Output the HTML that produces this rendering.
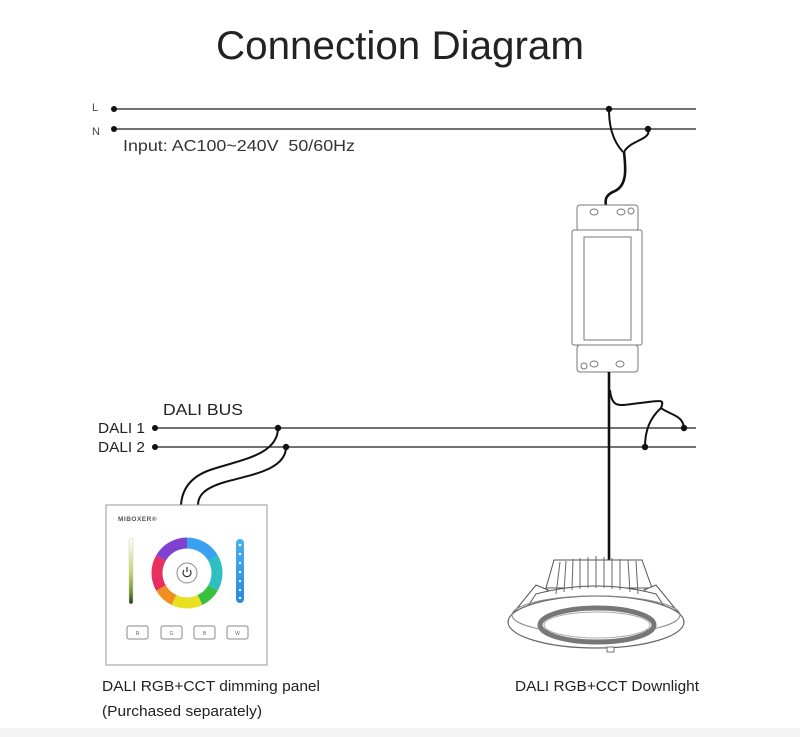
<!DOCTYPE html>
<html><head><meta charset="utf-8"><style>
html,body{margin:0;padding:0;background:#fff;}
svg{display:block;font-family:"Liberation Sans",sans-serif;}
</style></head><body>
<svg width="800" height="737" viewBox="0 0 800 737" xmlns="http://www.w3.org/2000/svg">
<defs>
<linearGradient id="sl" x1="0" y1="0" x2="0" y2="1">
<stop offset="0" stop-color="#fff"/><stop offset="0.5" stop-color="#c9d86a"/><stop offset="0.8" stop-color="#7a9a30"/><stop offset="1" stop-color="#1a3a10"/></linearGradient>
<linearGradient id="bl" x1="0" y1="0" x2="0" y2="1"><stop offset="0" stop-color="#4ab0ec"/><stop offset="1" stop-color="#2a8ad8"/></linearGradient>
</defs>
<rect width="800" height="737" fill="#fff"/>
<rect y="728" width="800" height="9" fill="#f4f4f4"/>
<text x="400" y="59" text-anchor="middle" font-size="40" fill="#222" textLength="368" lengthAdjust="spacingAndGlyphs">Connection Diagram</text>

<!-- L N -->
<text x="92" y="111" font-size="11" fill="#444">L</text>
<text x="92" y="135" font-size="11" fill="#444">N</text>
<line x1="114" y1="109" x2="696" y2="109" stroke="#444" stroke-width="1.6"/>
<line x1="114" y1="129" x2="696" y2="129" stroke="#444" stroke-width="1.6"/>
<circle cx="114" cy="109" r="3" fill="#111"/>
<circle cx="114" cy="129" r="3" fill="#111"/>
<text x="123" y="151" font-size="16" fill="#333" textLength="232" lengthAdjust="spacingAndGlyphs">Input: AC100~240V&#160; 50/60Hz</text>

<!-- input wires -->
<g fill="none" stroke="#111" stroke-width="2">
<path d="M609 109 C609 125 612 140 623 152"/>
<path d="M648 129 C652 140 630 140 624 152"/>
<path d="M624 152 C626 170 627 185 615 191 C605 195 605 200 606 206" stroke-width="2.6"/>
</g>
<circle cx="609" cy="109" r="3.2" fill="#111"/>
<circle cx="648" cy="129" r="3.2" fill="#111"/>

<!-- driver -->
<g fill="#fff" stroke="#777" stroke-width="1">
<rect x="577" y="205" width="61" height="26" rx="3"/>
<rect x="572" y="230" width="70" height="115" rx="2"/>
<rect x="584" y="237" width="47" height="103"/>
<rect x="577" y="345" width="61" height="27" rx="3"/>
<ellipse cx="594" cy="212" rx="4" ry="3"/><ellipse cx="621" cy="212" rx="4" ry="3"/><circle cx="631" cy="211" r="3"/>
<ellipse cx="594" cy="364" rx="4" ry="3"/><ellipse cx="620" cy="364" rx="4" ry="3"/><circle cx="584" cy="366" r="3"/>
</g>

<!-- DALI -->
<text x="163" y="415" font-size="16" fill="#222" textLength="80" lengthAdjust="spacingAndGlyphs">DALI BUS</text>
<text x="98" y="433" font-size="14.5" fill="#222" textLength="47" lengthAdjust="spacingAndGlyphs">DALI 1</text>
<text x="98" y="452" font-size="14.5" fill="#222" textLength="47" lengthAdjust="spacingAndGlyphs">DALI 2</text>
<line x1="155" y1="428" x2="696" y2="428" stroke="#444" stroke-width="1.6"/>
<line x1="155" y1="447" x2="696" y2="447" stroke="#444" stroke-width="1.6"/>
<circle cx="155" cy="428" r="3" fill="#111"/>
<circle cx="155" cy="447" r="3" fill="#111"/>

<g fill="none" stroke="#111" stroke-width="2">
<path d="M609 372 L609 560" stroke-width="2.6"/>
<path d="M610 390 C612 410 620 405 640 403 C660 401 665 398 661 408"/>
<path d="M661 408 C670 415 683 415 684 428"/>
<path d="M661 408 C650 418 645 430 645 447"/>
<path d="M278 428 C278 455 240 460 210 470 C190 477 182 490 181 505"/>
<path d="M286 447 C286 470 250 475 225 482 C205 488 198 495 198 505"/>
</g>
<circle cx="684" cy="428" r="3.2" fill="#111"/>
<circle cx="645" cy="447" r="3.2" fill="#111"/>
<circle cx="278" cy="428" r="3.2" fill="#111"/>
<circle cx="286" cy="447" r="3.2" fill="#111"/>

<!-- panel -->
<rect x="106" y="505" width="161" height="160" fill="#fff" stroke="#999" stroke-width="1"/>
<text x="118" y="521" font-size="6.5" font-weight="bold" fill="#555" letter-spacing="0.5">MIBOXER®</text>
<rect x="129" y="538" width="4" height="66" rx="2" fill="url(#sl)" stroke="#ccc" stroke-width="0.5"/>
<g fill="none" stroke-width="11">
<path d="M187 543 A30 30 0 0 1 213 558" stroke="#3aa0f0"/>
<path d="M213 558 A30 30 0 0 1 213 588" stroke="#2ec0c0"/>
<path d="M213 588 A30 30 0 0 1 200 600" stroke="#3ac040"/>
<path d="M200 600 A30 30 0 0 1 174 600" stroke="#e8e020"/>
<path d="M174 600 A30 30 0 0 1 161 588" stroke="#f09020"/>
<path d="M161 588 A30 30 0 0 1 161 558" stroke="#e83060"/>
<path d="M161 558 A30 30 0 0 1 187 543" stroke="#8040d0"/>
</g>
<circle cx="187" cy="573" r="10" fill="#fff" stroke="#888" stroke-width="1"/>
<path d="M184 570 A4 4 0 1 0 190 570" fill="none" stroke="#333" stroke-width="1.2"/>
<line x1="187" y1="567" x2="187" y2="572" stroke="#333" stroke-width="1.2"/>
<rect x="236" y="539" width="8" height="64" rx="4" fill="url(#bl)"/>
<g fill="#fff"><circle cx="240" cy="545" r="1.3"/><circle cx="240" cy="554" r="1.2"/><circle cx="240" cy="563" r="1.2"/><circle cx="240" cy="572" r="1.2"/><circle cx="240" cy="581" r="1.2"/><circle cx="240" cy="590" r="1.2"/><circle cx="240" cy="598" r="1.2"/></g>
<g fill="#fff" stroke="#888" stroke-width="1">
<rect x="127" y="626" width="21" height="13" rx="2"/><rect x="161" y="626" width="21" height="13" rx="2"/>
<rect x="194" y="626" width="21" height="13" rx="2"/><rect x="227" y="626" width="21" height="13" rx="2"/>
</g>
<g font-size="5" fill="#666" text-anchor="middle"><text x="137.5" y="635">R</text><text x="171.5" y="635">G</text><text x="204.5" y="635">B</text><text x="237.5" y="635">W</text></g>

<!-- downlight -->
<g stroke="#555" stroke-width="1" fill="#fff">
<path d="M546 588 L554 560 L642 560 L652 588 Z"/>
<path d="M514 612 L536 585 L548 590 L528 614 Z"/>
<path d="M678 612 L656 585 L644 590 L664 614 Z"/>
<path d="M536 594 Q596 578 656 594 L664 606 Q596 592 528 606 Z"/>
</g>
<g stroke="#666" stroke-width="1">
<line x1="560" y1="562" x2="556" y2="594"/><line x1="566" y1="561" x2="564" y2="592"/>
<line x1="573" y1="559" x2="572" y2="590"/><line x1="580" y1="558" x2="580" y2="589"/>
<line x1="588" y1="557" x2="588" y2="588"/><line x1="596" y1="556" x2="596" y2="588"/>
<line x1="604" y1="557" x2="604" y2="588"/><line x1="612" y1="558" x2="612" y2="589"/>
<line x1="620" y1="559" x2="620" y2="590"/><line x1="628" y1="560" x2="630" y2="592"/>
<line x1="636" y1="561" x2="638" y2="594"/>
</g>
<ellipse cx="596" cy="622" rx="88" ry="26" fill="#fff" stroke="#666" stroke-width="1.2"/>
<ellipse cx="596" cy="615" rx="84" ry="19" fill="none" stroke="#888" stroke-width="1"/>
<ellipse cx="597" cy="625" rx="57" ry="17" fill="none" stroke="#777" stroke-width="5"/>
<ellipse cx="597" cy="625" rx="53" ry="13" fill="#fff" stroke="#aaa" stroke-width="1"/>
<rect x="607" y="647" width="7" height="5" fill="#fff" stroke="#555" stroke-width="0.8"/>

<text x="102" y="691" font-size="15" fill="#222" textLength="218" lengthAdjust="spacingAndGlyphs">DALI RGB+CCT dimming panel</text>
<text x="102" y="716" font-size="15" fill="#222" textLength="160" lengthAdjust="spacingAndGlyphs">(Purchased separately)</text>
<text x="515" y="691" font-size="15" fill="#222" textLength="184" lengthAdjust="spacingAndGlyphs">DALI RGB+CCT Downlight</text>
</svg>
</body></html>
